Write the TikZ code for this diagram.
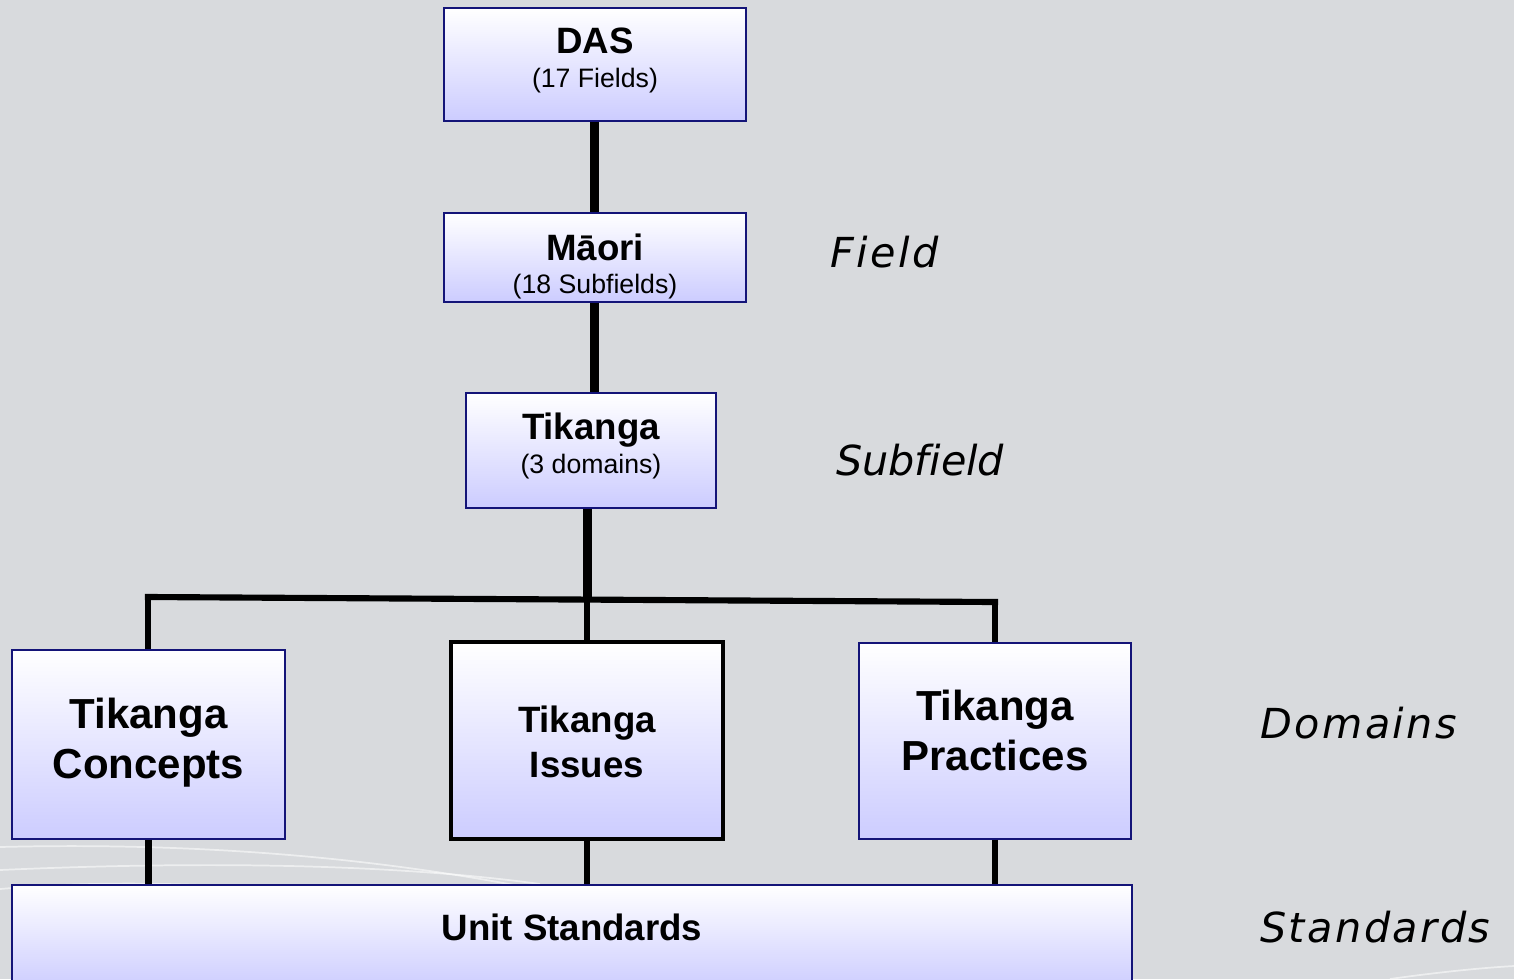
\documentclass[tikz,border=0pt]{standalone}
\usepackage{fontspec}
\setmainfont{Liberation Sans}
\newfontfamily\lblfont[LetterSpace=6]{DejaVu Sans}
\newfontfamily\lblfontnarrow[Ligatures=NoCommon]{DejaVu Sans}
\definecolor{bg}{RGB}{216,218,221}
\definecolor{lav}{RGB}{204,204,255}
\definecolor{navy}{RGB}{20,20,120}
\tikzset{
  box/.style={rectangle, draw=navy, line width=1.1pt, top color=white, bottom color=lav, inner sep=0pt},
  boxblack/.style={box, draw=black, line width=2.3pt},
  conn/.style={line width=4.6pt, black},
  connthick/.style={line width=6.75pt, black},
  swoosh/.style={white, opacity=0.55, line width=1.3pt},
  tbig/.style={anchor=base, inner sep=0pt, font=\bfseries\fontsize{27.5}{32}\selectfont},
  thuge/.style={anchor=base, inner sep=0pt, font=\bfseries\fontsize{31.5}{36}\selectfont},
  tsmall/.style={anchor=base, inner sep=0pt, font=\fontsize{20}{24}\selectfont},
  lbl/.style={anchor=base west, inner sep=0pt, font=\lblfont\itshape\fontsize{31}{36}\selectfont},
  lblnarrow/.style={anchor=base west, inner sep=0pt, font=\lblfontnarrow\itshape\fontsize{31}{36}\selectfont},
}
\begin{document}
\begin{tikzpicture}[x=0.75pt,y=-0.75pt]
\useasboundingbox (0,0) rectangle (1514,979);
\fill[bg] (0,0) rectangle (1514,979);
% background swooshes
\draw[swoosh] (0,847) .. controls (200,842) and (380,858) .. (540,890);
\draw[swoosh] (0,870) .. controls (180,862) and (380,862) .. (540,884);
\draw[swoosh] (0,889) .. controls (60,884) and (120,882) .. (200,885);
\draw[swoosh] (1390,979) .. controls (1440,972) and (1480,968) .. (1514,966);
% coordinates for the branch bar
\coordinate (barL) at (148,597);
\coordinate (barM) at (587,599.5);
\coordinate (barR) at (995,602);
% boxes
\node[box, minimum width=226.5pt, minimum height=84.75pt] (das) at (595,64.5) {};
\node[box, minimum width=226.5pt, minimum height=66.75pt] (mao) at (595,257.5) {};
\node[box, minimum width=187.5pt, minimum height=86.25pt] (tik) at (591,450.5) {};
\node[box, minimum width=204.75pt, minimum height=141.75pt] (con) at (148.5,744.5) {};
\node[boxblack, minimum width=204pt, minimum height=147.75pt] (iss) at (587,740.5) {};
\node[box, minimum width=204pt, minimum height=147pt] (pra) at (995,741) {};
\node[box, minimum width=840pt, minimum height=78.75pt] (us) at (572,937.5) {};
% connectors
\draw[connthick] (das.south -| 594.5,0) -- (mao.north -| 594.5,0);
\draw[connthick] (mao.south -| 594.5,0) -- (tik.north -| 594.5,0);
\draw[connthick] (tik.south -| barM) -- (barM);
\draw[conn, line width=5.2pt] (barM) -- (iss.north);
\draw[conn, line cap=rect] (barL) -- (barR);
\draw[conn] (barL) -- (barL |- con.north);
\draw[conn] (barR) -- (barR |- pra.north);
\draw[conn] (con.south) -- (con.south |- us.north);
\draw[conn] (iss.south) -- (iss.south |- us.north);
\draw[conn] (pra.south) -- (pra.south |- us.north);
% texts
\node[tbig] (dasT) at (595,53) {DAS};
\node[tsmall] (dasS) at (595,87) {(17 Fields)};
\node[tbig] (maoT) at (595,260) {Māori};
\node[tsmall] (maoS) at (595,293) {(18 Subfields)};
\node[tbig] (tikT) at (591,439) {Tikanga};
\node[tsmall] (tikS) at (591,473) {(3 domains)};
\node[thuge] (conT1) at (148.5,728) {Tikanga};
\node[thuge] (conT2) at (148.5,778) {Concepts};
\node[tbig] (issT1) at (587,732) {Tikanga};
\node[tbig] (issT2) at (587,777) {Issues};
\node[thuge] (praT1) at (995,720) {Tikanga};
\node[thuge] (praT2) at (995,770) {Practices};
\node[tbig] (usT) at (572,940) {Unit Standards};
% level labels
\node[lbl] (lField) at (830,267) {Field};
\node[lblnarrow] (lSub) at (836,475) {Subfield};
\node[lbl] (lDom) at (1260,738) {Domains};
\node[lbl] (lStd) at (1260,942) {Standards};
\end{tikzpicture}
\end{document}
